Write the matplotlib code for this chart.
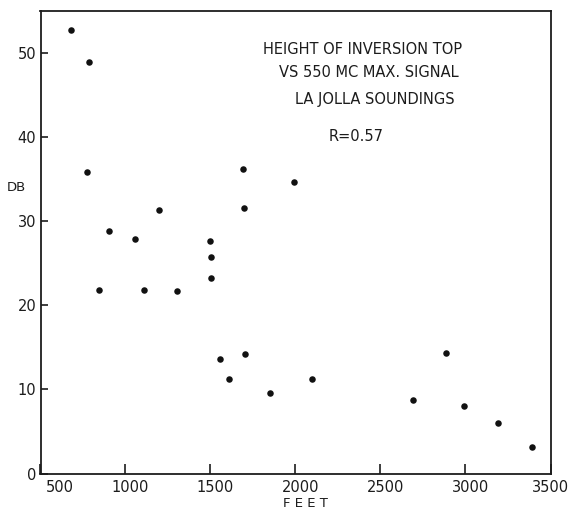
import matplotlib.pyplot as plt
import matplotlib.transforms as mtransforms
from matplotlib.ticker import FixedLocator

# inversion top height (ft) and 550 mc max signal (db), La Jolla soundings
height_ft = [681, 788, 773, 901, 847, 1055, 1200, 1106, 1302,
             1498, 1501, 1501, 1692, 1695, 1991, 1555, 1610, 1704,
             1852, 2098, 2690, 2888, 2992, 3194, 3390]
signal_db = [52.8, 48.9, 35.8, 28.8, 21.8, 27.9, 31.3, 21.8, 21.7,
             27.7, 25.7, 23.2, 36.2, 31.6, 34.7, 13.6, 11.2, 14.2,
             9.6, 11.2, 8.7, 14.3, 8.0, 6.0, 3.1]

x_ticks = [500, 1000, 1500, 2000, 2500, 3000, 3500]
y_ticks = [0, 10, 20, 30, 40, 50]

notes = ["HEIGHT OF INVERSION TOP", "VS 550 MC MAX. SIGNAL",
         "LA JOLLA SOUNDINGS", "R=0.57"]

ink = '#1c1c1c'
plt.rcParams['font.family'] = ['DejaVu Sans']

fig = plt.figure(figsize=(5.73, 5.11), dpi=100)
ax = fig.add_axes([40.5 / 573, 1 - 473.5 / 511, 510 / 573, 462.5 / 511])

ax.scatter(height_ft, signal_db, s=22, color='#111111', zorder=3, linewidths=0)

ax.set_xlim(500, 3500)
ax.set_ylim(0, 55)
ax.xaxis.set_major_locator(FixedLocator(x_ticks))
ax.yaxis.set_major_locator(FixedLocator(y_ticks))
ax.tick_params(axis='x', direction='in', length=7, width=1.2, colors=ink,
               labelsize=10.5, pad=5)
ax.tick_params(axis='y', direction='in', length=5, width=1.2, colors=ink,
               labelsize=10.5, pad=3)
for s in ax.spines.values():
    s.set_linewidth(1.3)
    s.set_color(ink)

# the hand-lettered x labels sit a little to the right of their ticks
shift = mtransforms.ScaledTranslation(5 / 100, 0, fig.dpi_scale_trans)
xlabels = ax.get_xticklabels()
for lab in xlabels[:-1]:
    lab.set_transform(lab.get_transform() + shift)
xlabels[0].set_horizontalalignment('left')

ax.set_xlabel("F E E T", fontsize=9.5, color=ink)
ax.xaxis.set_label_coords(0.519, -0.05)
ax.set_ylabel("DB", fontsize=9.5, color=ink, rotation=0, va='center', ha='center')
ax.yaxis.set_label_coords(-0.048, 0.619)

note_pos = [(0.631, 0.916), (0.644, 0.866), (0.655, 0.808), (0.618, 0.728)]
for txt, (nx, ny) in zip(notes, note_pos):
    ax.text(nx, ny, txt, transform=ax.transAxes, ha='center', va='center',
            fontsize=10.5, color=ink)

fig.savefig('out.png', dpi=100)
